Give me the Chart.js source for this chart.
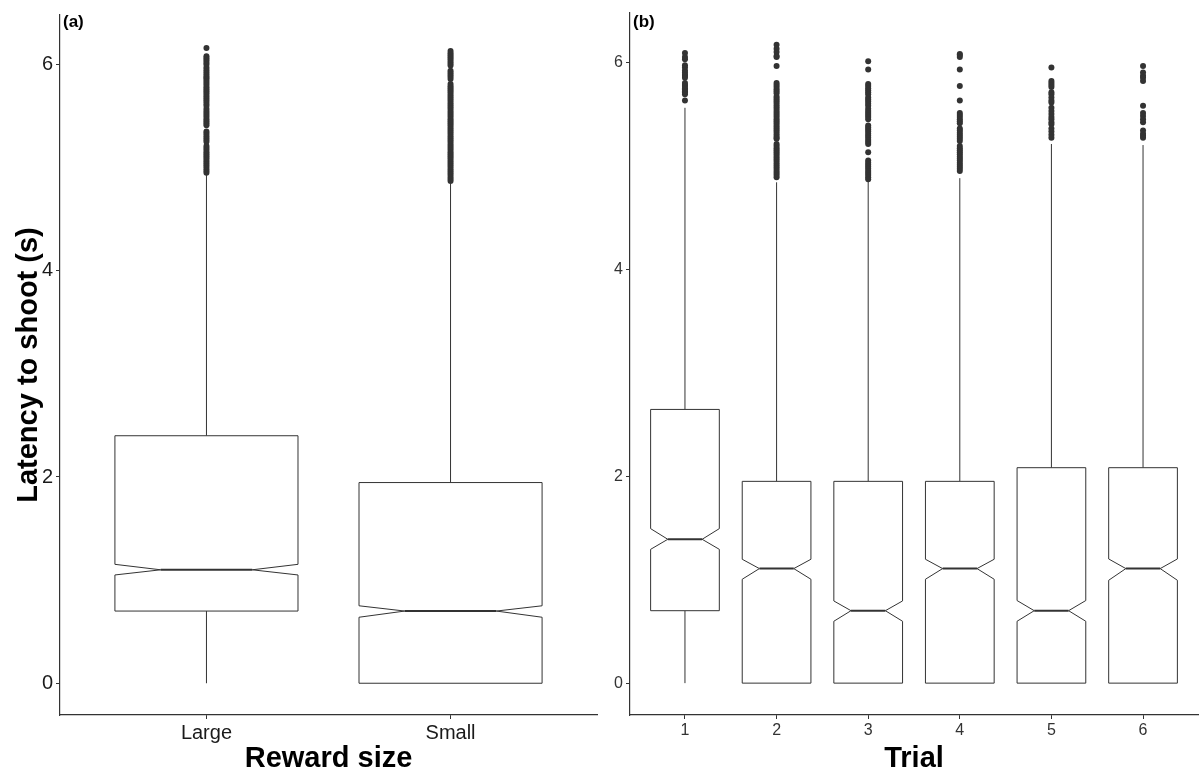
<!DOCTYPE html>
<html>
<head>
<meta charset="utf-8">
<script src="https://cdn.jsdelivr.net/npm/chart.js@4.4.1/dist/chart.umd.min.js"></script>
<style>
  body { margin: 0; background: #fff; }
  canvas { position: absolute; top: 0; }
  #chartA { left: 0; }
  #chartB { left: 600px; }
</style>
</head>
<body>
<canvas id="chartA" width="600" height="773"></canvas>
<canvas id="chartB" width="601" height="773"></canvas>
<script>
// Categorias y ticks
const rewardCats = ['Large', 'Small'];
const trialCats = ['1', '2', '3', '4', '5', '6'];
const yTicks = [0, 2, 4, 6];

// Panel (a): resumen de cajas por tamaño de recompensa
const rewardLo = [0, 0];
const rewardQ1 = [0.70, 0];
const rewardNotchLo = [1.05, 0.64];
const rewardMed = [1.10, 0.70];
const rewardNotchHi = [1.153, 0.751];
const rewardQ3 = [2.40, 1.946];
const rewardHi = [4.94, 4.845];

// Outliers panel (a)
const outLarge = [6.16, 6.08, 6.06, 6.04, 6.02, 6.00, 5.97, 5.95, 5.93, 5.91, 5.89, 5.875,
  5.86, 5.84, 5.82, 5.80, 5.78, 5.76, 5.74, 5.72, 5.70, 5.68, 5.66, 5.64, 5.62, 5.60,
  5.57, 5.55, 5.53, 5.51, 5.49, 5.47, 5.45, 5.43, 5.41, 5.35, 5.33, 5.31, 5.29, 5.27, 5.25,
  5.21, 5.19, 5.17, 5.15, 5.13, 5.11, 5.09, 5.07, 5.05, 5.03, 5.01, 4.99, 4.97, 4.95];
const outSmall = [6.13, 6.11, 6.09, 6.07, 6.05, 6.03, 6.01, 5.99, 5.94, 5.92, 5.90, 5.88, 5.86,
  5.81, 5.79, 5.77, 5.75, 5.73, 5.71, 5.69, 5.67, 5.65, 5.63, 5.61, 5.59, 5.57, 5.55, 5.53,
  5.51, 5.49, 5.47, 5.45, 5.43, 5.41, 5.39, 5.37, 5.35, 5.33, 5.31, 5.29, 5.27, 5.25, 5.23,
  5.21, 5.19, 5.17, 5.15, 5.13, 5.11, 5.09, 5.07, 5.05, 5.03, 5.01, 4.99, 4.97, 4.95, 4.93,
  4.91, 4.89, 4.87];

// Panel (b): resumen de cajas por ensayo
const trialLo = [0, 0, 0, 0, 0, 0];
const trialQ1 = [0.70, 0, 0, 0, 0, 0];
const trialNotchLo = [1.293, 1.004, 0.598, 1.004, 0.598, 0.994];
const trialMed = [1.39, 1.107, 0.70, 1.107, 0.70, 1.107];
const trialNotchHi = [1.493, 1.197, 0.794, 1.197, 0.798, 1.20];
const trialQ3 = [2.645, 1.95, 1.95, 1.95, 2.082, 2.082];
const trialHi = [5.56, 4.84, 4.85, 4.88, 5.21, 5.20];

// Outliers panel (b)
const outT1 = [6.09, 6.05, 6.03, 5.97, 5.95, 5.92, 5.90, 5.88, 5.87, 5.85, 5.80, 5.78, 5.77,
  5.75, 5.74, 5.72, 5.71, 5.69, 5.63];
const outT2 = [6.17, 6.13, 6.10, 6.06, 6.05, 5.965, 5.80, 5.78, 5.76, 5.74, 5.72, 5.70, 5.67,
  5.65, 5.63, 5.61, 5.59, 5.57, 5.55, 5.53, 5.51, 5.49, 5.47, 5.45, 5.43, 5.41, 5.39, 5.37,
  5.35, 5.33, 5.31, 5.29, 5.27, 5.26, 5.21, 5.19, 5.17, 5.15, 5.13, 5.11, 5.09, 5.07, 5.05,
  5.03, 5.01, 4.99, 4.97, 4.95, 4.93, 4.91, 4.89];
const outT3 = [6.01, 5.93, 5.79, 5.77, 5.75, 5.73, 5.71, 5.69, 5.66, 5.64, 5.62, 5.60, 5.58,
  5.55, 5.53, 5.51, 5.49, 5.47, 5.45, 5.39, 5.37, 5.35, 5.33, 5.31, 5.29, 5.27, 5.25, 5.23,
  5.21, 5.13, 5.05, 5.03, 5.01, 4.99, 4.97, 4.95, 4.93, 4.91, 4.89, 4.87];
const outT4 = [6.08, 6.07, 6.05, 5.93, 5.77, 5.63, 5.51, 5.49, 5.47, 5.45, 5.43, 5.41, 5.36,
  5.34, 5.32, 5.30, 5.28, 5.26, 5.24, 5.19, 5.17, 5.15, 5.13, 5.11, 5.09, 5.07, 5.05, 5.03,
  5.01, 4.99, 4.97, 4.95];
const outT5 = [5.95, 5.82, 5.80, 5.78, 5.76, 5.71, 5.69, 5.66, 5.63, 5.61, 5.56, 5.53, 5.50,
  5.47, 5.45, 5.42, 5.40, 5.36, 5.33, 5.30, 5.27];
const outT6 = [5.965, 5.90, 5.87, 5.85, 5.82, 5.58, 5.51, 5.48, 5.45, 5.42, 5.34, 5.31, 5.29, 5.27];

// Constantes de estilo
const FUENTE = "'Liberation Sans', Arial, sans-serif";
const ANCHO_CAJA = 0.75;
const GRIS = '#333';

/**
 * * Plugin que dibuja las cajas con muesca y la etiqueta del panel
 */
function cajasPlugin(st, etiqueta) {
  return {
    id: 'cajas',
    beforeDatasetsDraw(chart) {
      const { ctx, scales: { x, y } } = chart;
      const half = x.getPixelForValue(1 + ANCHO_CAJA / 2) - x.getPixelForValue(1);
      ctx.save();
      ctx.strokeStyle = GRIS;
      st.med.forEach((m, i) => {
        const cx = x.getPixelForValue(i + 1);
        const pQ1 = y.getPixelForValue(st.q1[i]);
        const pQ3 = y.getPixelForValue(st.q3[i]);
        const pMed = y.getPixelForValue(m);
        const pNl = y.getPixelForValue(st.nlo[i]);
        const pNu = y.getPixelForValue(st.nhi[i]);
        // bigotes
        ctx.lineWidth = 1;
        ctx.beginPath();
        ctx.moveTo(cx, y.getPixelForValue(st.hi[i]));
        ctx.lineTo(cx, pQ3);
        ctx.moveTo(cx, pQ1);
        ctx.lineTo(cx, y.getPixelForValue(st.lo[i]));
        ctx.stroke();
        // caja con muesca
        ctx.beginPath();
        ctx.moveTo(cx - half, pQ3);
        ctx.lineTo(cx + half, pQ3);
        ctx.lineTo(cx + half, pNu);
        ctx.lineTo(cx + half / 2, pMed);
        ctx.lineTo(cx + half, pNl);
        ctx.lineTo(cx + half, pQ1);
        ctx.lineTo(cx - half, pQ1);
        ctx.lineTo(cx - half, pNl);
        ctx.lineTo(cx - half / 2, pMed);
        ctx.lineTo(cx - half, pNu);
        ctx.closePath();
        ctx.fillStyle = '#fff';
        ctx.fill();
        ctx.stroke();
        // mediana
        ctx.lineWidth = 2;
        ctx.beginPath();
        ctx.moveTo(cx - half / 2, pMed);
        ctx.lineTo(cx + half / 2, pMed);
        ctx.stroke();
      });
      ctx.restore();
    },
    afterDraw(chart) {
      const { ctx, chartArea } = chart;
      ctx.save();
      ctx.font = 'bold 17px ' + FUENTE;
      ctx.fillStyle = '#000';
      ctx.textBaseline = 'middle';
      ctx.fillText(etiqueta, chartArea.left + 3, 22);
      ctx.restore();
    }
  };
}

function puntos(grupos) {
  return grupos.flatMap((g, i) => g.map(v => ({ x: i + 1, y: v })));
}

function crearPanel(id, cats, st, outliers, cfg) {
  const ctx = document.getElementById(id);
  new Chart(ctx, {
    type: 'scatter',
    data: {
      datasets: [{
        data: puntos(outliers),
        pointRadius: 3,
        pointHoverRadius: 0,
        backgroundColor: GRIS,
        borderWidth: 0
      }]
    },
    options: {
      responsive: false,
      animation: false,
      devicePixelRatio: 1,
      events: [],
      layout: { padding: { top: 8, right: cfg.padRight, bottom: 0, left: 0 } },
      plugins: { legend: { display: false }, tooltip: { enabled: false } },
      scales: {
        x: {
          type: 'linear',
          min: 0.4,
          max: cats.length + 0.6,
          afterBuildTicks: s => { s.ticks = cats.map((c, i) => ({ value: i + 1 })); },
          afterFit: s => { s.height = 58; },
          ticks: {
            callback: v => cats[v - 1],
            autoSkip: false,
            maxRotation: 0,
            padding: 2,
            color: cfg.tickColor,
            font: { family: FUENTE, size: cfg.xTickSize }
          },
          grid: { display: true, drawOnChartArea: false, drawTicks: true, tickLength: 4, color: GRIS },
          border: { display: true, color: GRIS, width: 1.2 },
          title: {
            display: true,
            text: cfg.xTitle,
            color: '#000',
            padding: { top: 0, bottom: 0 },
            font: { family: FUENTE, size: 29, weight: 'bold', lineHeight: 1.0 }
          }
        },
        y: {
          type: 'linear',
          min: -0.308,
          max: 6.48,
          afterBuildTicks: s => { s.ticks = yTicks.map(v => ({ value: v })); },
          afterFit: s => { s.width = cfg.yWidth; },
          ticks: {
            padding: 3,
            color: cfg.tickColor,
            font: { family: FUENTE, size: cfg.yTickSize }
          },
          grid: { display: true, drawOnChartArea: false, drawTicks: true, tickLength: 4, color: GRIS },
          border: { display: true, color: GRIS, width: 1.2 },
          title: {
            display: cfg.yTitle !== '',
            text: cfg.yTitle,
            color: '#000',
            padding: { top: 12, bottom: 0 },
            font: { family: FUENTE, size: 29, weight: 'bold' }
          }
        }
      }
    },
    plugins: [cajasPlugin(st, cfg.etiqueta)]
  });
}

crearPanel('chartA', rewardCats,
  { lo: rewardLo, q1: rewardQ1, nlo: rewardNotchLo, med: rewardMed, nhi: rewardNotchHi, q3: rewardQ3, hi: rewardHi },
  [outLarge, outSmall],
  { padRight: 1, yWidth: 60, xTitle: 'Reward size', yTitle: 'Latency to shoot (s)',
    xTickSize: 20, yTickSize: 20, tickColor: '#1a1a1a', etiqueta: '(a)' });

crearPanel('chartB', trialCats,
  { lo: trialLo, q1: trialQ1, nlo: trialNotchLo, med: trialMed, nhi: trialNotchHi, q3: trialQ3, hi: trialHi },
  [outT1, outT2, outT3, outT4, outT5, outT6],
  { padRight: 0, yWidth: 30, xTitle: 'Trial', yTitle: '',
    xTickSize: 16, yTickSize: 16, tickColor: '#333', etiqueta: '(b)' });
</script>
</body>
</html>
